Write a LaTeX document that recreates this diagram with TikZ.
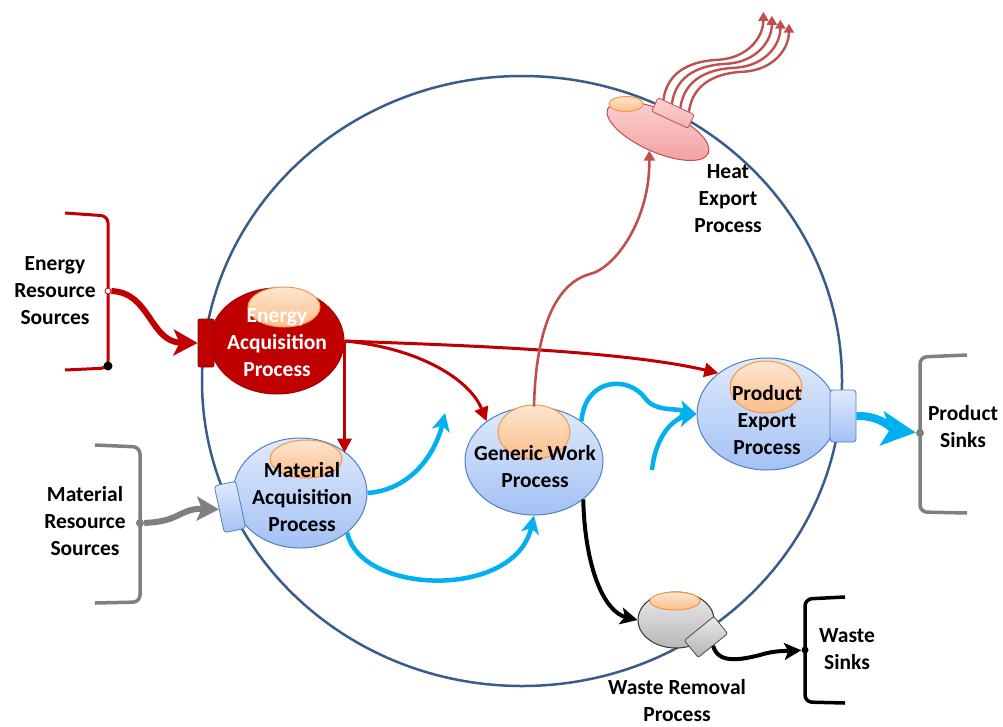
\documentclass[tikz,border=0pt]{standalone}
\usepackage{fontspec}
\setmainfont{Carlito}
\usetikzlibrary{arrows.meta,shapes.geometric,calc}

\definecolor{rim}{RGB}{56,93,138}
\definecolor{darkred}{RGB}{192,0,0}
\definecolor{heatred}{RGB}{192,80,77}
\definecolor{flowcyan}{RGB}{0,176,240}
\definecolor{procedge}{RGB}{79,129,189}
\definecolor{proctop}{RGB}{224,234,251}
\definecolor{procbot}{RGB}{163,193,245}
\definecolor{capedge}{RGB}{247,150,70}
\definecolor{captop}{RGB}{253,230,208}
\definecolor{capbot}{RGB}{250,190,140}
\definecolor{heattop}{RGB}{252,210,210}
\definecolor{heatbot}{RGB}{244,158,158}
\definecolor{sinkgray}{RGB}{127,127,127}

\begin{document}
\begin{tikzpicture}[x=1pt,y=-1pt,
 every node/.style={font=\fontsize{21.5}{27}\selectfont\bfseries,align=center,inner sep=0pt},
 proc/.style={ellipse,draw=procedge,line width=1pt,top color=proctop,bottom color=procbot},
 topcap/.style={ellipse,draw=capedge,line width=1pt,top color=captop,bottom color=capbot},
 port/.style={rectangle,rounded corners=3pt,draw=procedge,line width=.8pt,top color=proctop,bottom color=procbot},
 srcdot/.style={circle,minimum size=#1},
 bracket/.style={line width=3.5pt,rounded corners=7pt},
 redflow/.style={-{Triangle[length=14pt,width=14pt]},draw=darkred,line width=3pt},
 heatflow/.style={-{Triangle[length=10pt,width=11pt]},draw=heatred,line width=2.6pt},
 cyanflow/.style={-{Stealth[length=18pt,width=18pt,inset=5pt]},draw=flowcyan,line width=4.5pt},
 blackflow/.style={-{Stealth[length=17pt,width=17pt,inset=4pt]},draw=black,line width=4pt}
]
\useasboundingbox (0,0) rectangle (1003,726);

% heat export sits under the boundary line
\node[ellipse,draw=heatred,line width=1pt,top color=heattop,bottom color=heatbot,
  minimum width=110,minimum height=42,rotate=-24] (heat) at (658,131) {};

% system boundary
\node[ellipse,draw=rim,line width=2.5pt,minimum width=640,minimum height=610] (system) at (522,381) {};

% processes
\node[ellipse,fill=darkred,draw=darkred!85!black,line width=1pt,minimum width=134,minimum height=106] (eacq) at (277,341) {};
\node[topcap,minimum width=72,minimum height=40] (eacqcap) at (284,307) {};
\node[rectangle,rounded corners=2pt,fill=darkred,draw=darkred!70!black,line width=.8pt,minimum width=16,minimum height=48] (eport) at (206,343) {};
\node[text=white] (eacqtxt) at (277,343) {Energy\\Acquisition\\Process};

\node[proc,minimum width=134,minimum height=110] (macq) at (300,493) {};
\node[topcap,minimum width=72,minimum height=38] (macqcap) at (306,459) {};
\node[port,minimum width=22,minimum height=48,rotate=12] (mport) at (230,507) {};
\node (macqtxt) at (302,497) {Material\\Acquisition\\Process};

\node[proc,minimum width=138,minimum height=108] (gen) at (534,461) {};
\node[topcap,minimum width=72,minimum height=54] (gencap) at (534,432) {};
\node (gentxt) at (535,467) {Generic Work\\Process};

\node[proc,minimum width=140,minimum height=112] (pexp) at (767,414) {};
\node[topcap,minimum width=72,minimum height=52] (pexpcap) at (766,387) {};
\node[port,minimum width=26,minimum height=52] (pport) at (843,416) {};
\node (pexptxt) at (767,420) {Product\\Export\\Process};

\node[topcap,minimum width=34,minimum height=15] (heatcap) at (626,104) {};
\node[rectangle,rounded corners=2pt,draw=heatred,line width=.8pt,top color=heattop,bottom color=heatbot!80!white,
  minimum width=40,minimum height=15,rotate=-25] (hport) at (673,113) {};
\node (heattxt) at (728,199) {Heat\\Export\\Process};

\node[ellipse,draw=black!80,line width=1pt,top color=black!8,bottom color=black!28,minimum width=76,minimum height=56] (waste) at (676,620) {};
\node[topcap,minimum width=50,minimum height=18] (wastecap) at (675,601) {};
\node[rectangle,rounded corners=2pt,draw=black!70,line width=.8pt,top color=black!8,bottom color=black!30,
  minimum width=38,minimum height=22,rotate=39] (wport) at (706,637) {};
\node (wastetxt) at (677,701) {Waste Removal\\Process};

% sources and sinks
\draw[bracket,darkred,line width=3pt] (65,213) -- (108,216) -- (108,368) -- (65,370);
\node[srcdot=6pt,fill=white,draw=darkred,line width=.8pt] (edot) at (108,291) {};
\node[srcdot=9pt,fill=black] (eend) at (108,366) {};
\node (esrc) at (55,291) {Energy\\Resource\\Sources};

\draw[bracket,sinkgray] (95,445) -- (140,447) -- (140,602) -- (95,603);
\node[srcdot=8pt,fill=sinkgray] (mdot) at (140,523) {};
\node (msrc) at (85,521) {Material\\Resource\\Sources};

\draw[bracket,sinkgray] (967,355) -- (920,357) -- (920,512) -- (967,513);
\node[srcdot=8pt,fill=sinkgray] (pdot) at (920,433) {};
\node (psink) at (963,427) {Product\\Sinks};

\draw[bracket,black] (845,597) -- (805,599) -- (805,702) -- (845,703);
\node[srcdot=7pt,fill=black] (wdot) at (805,650) {};
\node (wsink) at (847,649) {Waste\\Sinks};

\coordinate (mfree) at (445,413);
\coordinate (pfree) at (652,470);

% energy flows
\draw[-{Stealth[length=24pt,width=26pt,inset=6pt]},draw=darkred,line width=6pt]
  (edot) .. controls (150,292) and (150,342) .. (eport.west);
\draw[redflow] (eacq.east) .. controls (450,345) and (620,350) .. (pexp.140);
\draw[redflow] (eacq.east) .. controls (420,348) and (470,380) .. (gen.140);
\draw[redflow] (eacq.east) -- (eacq.east |- macq.41);

% material flows
\draw[-{Stealth[length=22pt,width=24pt,inset=5pt]},draw=sinkgray,line width=6pt]
  (mdot) .. controls (180,522) and (180,508) .. (mport.west);
\draw[cyanflow] (macq.east) .. controls (410,490) and (435,455) .. (mfree);
\draw[cyanflow] (macq.-40) .. controls (360,595) and (515,600) .. (gen.south);
\draw[cyanflow] (gen.40) .. controls (585,378) and (628,375) .. (645,398) .. controls (655,412) and (675,408) .. (pexp.west);
\draw[cyanflow] (pfree) .. controls (655,440) and (670,420) .. (pexp.west);
\draw[-{Stealth[length=34pt,width=34pt,inset=8pt]},draw=flowcyan,line width=8pt]
  (pport.east) .. controls (880,415) and (895,430) .. (pdot);

% heat
\draw[heatflow] (gen.north) .. controls (536,320) and (560,282) .. (590,274) .. controls (615,268) and (650,220) .. (heat.south);
\foreach \i [evaluate=\i as \t using 0.15+0.23*\i] in {0,...,3}
  \draw[-{Triangle[length=9pt,width=10pt]},draw=heatred,line width=2.4pt]
    ($(hport.north west)!\t!(hport.north east)$) .. controls +(4,-30) and +(-25,1) .. ++(55,-40) .. controls +(30,-2) and +(0,25) .. ++(45,-48);

% waste
\draw[blackflow] (gen.-38) .. controls (585,570) and (605,612) .. (waste.west);
\draw[blackflow] (wport.south) .. controls (718,664) and (740,660) .. (760,655) .. controls (775,650) and (790,651) .. (wdot);
\end{tikzpicture}
\end{document}
